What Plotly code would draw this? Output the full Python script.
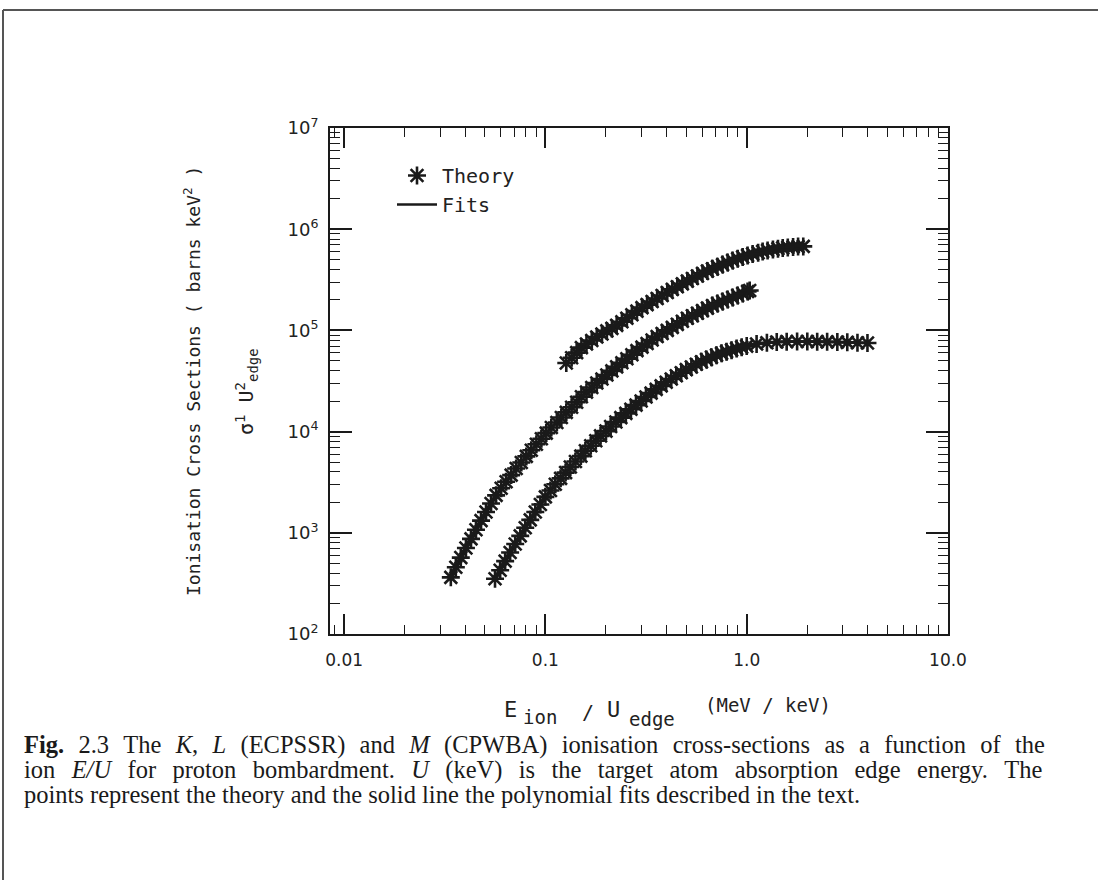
import plotly.graph_objects as go

# ---------------- data ----------------
k_x = [0.0562, 0.0596, 0.0631, 0.0668, 0.0708, 0.0750, 0.0794, 0.0841, 0.0891, 0.0944,
       0.100, 0.106, 0.112, 0.119, 0.126, 0.133, 0.141, 0.150, 0.158, 0.168,
       0.178, 0.188, 0.200, 0.211, 0.224, 0.237, 0.251, 0.266, 0.282, 0.299,
       0.316, 0.335, 0.355, 0.376, 0.398, 0.422, 0.447, 0.473, 0.501, 0.531,
       0.562, 0.596, 0.631, 0.668, 0.708, 0.750, 0.794, 0.841, 0.891, 0.944,
       1.00, 1.12, 1.26, 1.41, 1.58, 1.78, 2.00, 2.24, 2.51, 2.82, 3.16, 3.55, 3.98]
k_y = [351, 427, 525, 638, 776, 933, 1122, 1343, 1603, 1905,
       2265, 2618, 3020, 3451, 3936, 4467, 5070, 5728, 6457, 7244,
       8128, 9078, 10120, 11220, 12450, 13740, 15140, 16630, 18280, 20050,
       21980, 23990, 26120, 28310, 30690, 33110, 35650, 38190, 40930, 43550,
       46240, 48870, 51520, 54200, 56890, 59290, 61660, 63830, 66070, 68080,
       69980, 73280, 75510, 76920, 77450, 77620, 77620, 77450, 77090, 76740, 76210, 75510, 74990]

l_x = [0.0339, 0.0359, 0.0380, 0.0403, 0.0427, 0.0452, 0.0479, 0.0507, 0.0537, 0.0569,
       0.0603, 0.0638, 0.0676, 0.0716, 0.0759, 0.0804, 0.0851, 0.0902, 0.0955, 0.101,
       0.107, 0.114, 0.120, 0.127, 0.135, 0.143, 0.151, 0.160, 0.170, 0.180,
       0.191, 0.202, 0.214, 0.226, 0.240, 0.254, 0.269, 0.285, 0.302, 0.320,
       0.339, 0.359, 0.380, 0.403, 0.427, 0.452, 0.479, 0.507, 0.537, 0.569,
       0.603, 0.638, 0.676, 0.716, 0.759, 0.804, 0.851, 0.902, 0.955, 1.01, 1.035]
l_y = [363, 457, 569, 708, 871, 1072, 1318, 1603, 1950, 2344,
       2754, 3199, 3715, 4315, 4955, 5689, 6531, 7499, 8511, 9661,
       10960, 12300, 13800, 15490, 17380, 19500, 22130, 24550, 27230, 30200,
       33110, 36310, 39810, 43650, 47860, 52480, 57540, 63100, 68390, 74130,
       80350, 87100, 93330, 100000, 107200, 114800, 123000, 131800, 139600, 147900,
       156700, 166000, 175800, 184100, 192800, 201800, 211300, 221300, 231700, 242700, 248300]

m_x = [0.127, 0.135, 0.143, 0.151, 0.160, 0.170, 0.180, 0.191, 0.202, 0.214,
       0.226, 0.240, 0.254, 0.269, 0.285, 0.302, 0.320, 0.339, 0.359, 0.380,
       0.403, 0.427, 0.452, 0.479, 0.507, 0.537, 0.569, 0.603, 0.638, 0.676,
       0.716, 0.759, 0.804, 0.851, 0.902, 0.955, 1.01, 1.07, 1.14, 1.20,
       1.27, 1.35, 1.43, 1.51, 1.60, 1.70, 1.80, 1.91]
m_y = [47640, 53700, 60260, 67610, 73280, 79430, 86100, 92260, 98850, 104700,
       112200, 121600, 131800, 142900, 154900, 167900, 179900, 192800, 206500, 221300,
       237100, 254100, 270400, 288400, 306900, 325800, 345100, 365600, 385500, 405500,
       426600, 446700, 467700, 489800, 510500, 530900, 549500, 568900, 586100, 602600,
       616600, 631000, 642700, 653100, 660700, 668300, 673000, 676100]

x_tick_vals = [0.01, 0.1, 1.0, 10.0]
x_tick_text = ["0.01", "0.1", "1.0", "10.0"]
y_tick_vals = [1e2, 1e3, 1e4, 1e5, 1e6, 1e7]
y_tick_text = ["10<sup>2</sup>", "10<sup>3</sup>", "10<sup>4</sup>",
               "10<sup>5</sup>", "10<sup>6</sup>", "10<sup>7</sup>"]

curve_labels = ["total M", "total L", "K shell"]
label_x = [1.47, 1.91, 1.83]
label_y = [1.38e6, 2.75e5, 3.9e4]

G1 = " \u2004"          # widened word gaps (justified caption lines)
G2 = " \u2004\u200a"
caption_lines = [
    G1.join(["<b>Fig.</b>", "2.3", "The", "<i>K</i>,", "<i>L</i>", "(ECPSSR)", "and", "<i>M</i>",
             "(CPWBA)", "ionisation", "cross-sections", "as", "a", "function", "of", "the"]),
    G2.join(["ion", "<i>E/U</i>", "for", "proton", "bombardment.", "<i>U</i>", "(keV)", "is",
             "the", "target", "atom", "absorption", "edge", "energy.", "The"]),
    "points represent the theory and the solid line the polynomial fits described in the text.",
]

# ---------------- geometry helpers ----------------
W, H = 1098, 880
L_, R_, T_, B_ = 330, 948, 128, 634


def px(xp):
    return (xp - L_) / (R_ - L_)


def py(yp):
    return (B_ - yp) / (B_ - T_)


INK = "#1a1a1a"
TXT = "#222"
PFONT = "DejaVu Sans"
MFONT = "DejaVu Sans Mono"

fig = go.Figure()

series = [(k_x, k_y), (l_x, l_y), (m_x, m_y)]
for i, (xs, ys) in enumerate(series):
    fig.add_trace(go.Scatter(
        x=xs, y=ys, mode="lines",
        line=dict(color=INK, width=2.5),
        name="Fits", showlegend=(i == 0), legendrank=2, hoverinfo="skip"))
for i, (xs, ys) in enumerate(series):
    fig.add_trace(go.Scatter(
        x=xs, y=ys, mode="markers",
        marker=dict(symbol="asterisk-open", size=15, color=INK,
                    line=dict(color=INK, width=2.6)),
        name="Theory", showlegend=(i == 0), legendrank=1))

minor_x = [m * 10 ** d for d in (-3, -2, -1, 0) for m in range(2, 10)]
minor_y = [m * 10 ** d for d in (2, 3, 4, 5, 6) for m in range(2, 10)]

fig.update_xaxes(
    type="log", range=[-2.07, 1.0],
    tickmode="array", tickvals=x_tick_vals, ticktext=x_tick_text,
    ticks="inside", ticklen=20, tickwidth=1.6, tickcolor=INK,
    minor=dict(tickmode="array", tickvals=minor_x, ticks="inside", ticklen=9,
               tickwidth=1.4, tickcolor=INK, showgrid=False),
    showline=True, linecolor=INK, linewidth=2, mirror="allticks",
    showgrid=False, zeroline=False, ticklabelstandoff=10,
    tickfont=dict(family=PFONT, size=17, color=TXT),
)
fig.update_yaxes(
    type="log", range=[2, 7],
    tickmode="array", tickvals=y_tick_vals, ticktext=y_tick_text,
    ticks="inside", ticklen=22, tickwidth=1.6, tickcolor=INK,
    minor=dict(tickmode="array", tickvals=minor_y, ticks="inside", ticklen=10,
               tickwidth=1.4, tickcolor=INK, showgrid=False),
    showline=True, linecolor=INK, linewidth=2, mirror="allticks",
    showgrid=False, zeroline=False, ticklabelstandoff=6,
    tickfont=dict(family=PFONT, size=18, color=TXT),
)

annotations = []
for t, xv, yv in zip(curve_labels, label_x, label_y):
    annotations.append(dict(x=xv, y=yv, xref="x", yref="y", text=t, showarrow=False,
                            xanchor="center", yanchor="middle",
                            font=dict(family=MFONT, size=20, color=TXT)))

# y-axis titles
annotations.append(dict(x=px(192), y=py(381), xref="paper", yref="paper",
                        xanchor="center", yanchor="middle",
                        text="Ionisation Cross Sections ( barns keV<sup>2</sup> )",
                        textangle=-90, showarrow=False,
                        font=dict(family=MFONT, size=18, color=TXT)))
annotations.append(dict(x=px(246), y=py(392), xref="paper", yref="paper",
                        xanchor="center", yanchor="middle",
                        text="σ<sup>1</sup> U<sup>2</sup><sub>edge</sub>",
                        textangle=-90, showarrow=False,
                        font=dict(family=MFONT, size=20, color=TXT)))

# x-axis title, piece by piece
xt_parts = [("E", 510, 709, 22), ("ion", 540, 717, 19), ("/", 588, 712, 20),
            ("U", 613, 709, 22), ("edge", 652, 719, 19), ("(MeV / keV)", 768, 705, 19)]
for t, xp_, yp_, fs in xt_parts:
    annotations.append(dict(x=px(xp_), y=py(yp_), xref="paper", yref="paper", text=t,
                            xanchor="center", yanchor="middle",
                            showarrow=False, font=dict(family=MFONT, size=fs, color=TXT)))

# caption
for i, line in enumerate(caption_lines):
    annotations.append(dict(x=px(22), y=py(745 + 24.5 * i), xref="paper", yref="paper",
                            xanchor="left", yanchor="middle", text=line, showarrow=False,
                            font=dict(family="Liberation Serif", size=24.5, color="#1a1a1a")))

shapes = [
    dict(type="line", xref="paper", yref="paper", x0=px(3), x1=px(1098), y0=py(10), y1=py(10),
         line=dict(color="#555", width=2)),
    dict(type="line", xref="paper", yref="paper", x0=px(3), x1=px(3), y0=py(10), y1=py(880),
         line=dict(color="#555", width=2)),
]

fig.update_layout(
    width=W, height=H,
    margin=dict(l=L_, r=W - R_, t=T_, b=H - B_),
    paper_bgcolor="white", plot_bgcolor="white",
    showlegend=True,
    legend=dict(x=px(392), y=py(156), xanchor="left", yanchor="top",
                bgcolor="rgba(0,0,0,0)", font=dict(family=MFONT, size=20, color=TXT),
                itemwidth=40, tracegroupgap=2),
    annotations=annotations, shapes=shapes,
)

fig.write_html("out.html")
